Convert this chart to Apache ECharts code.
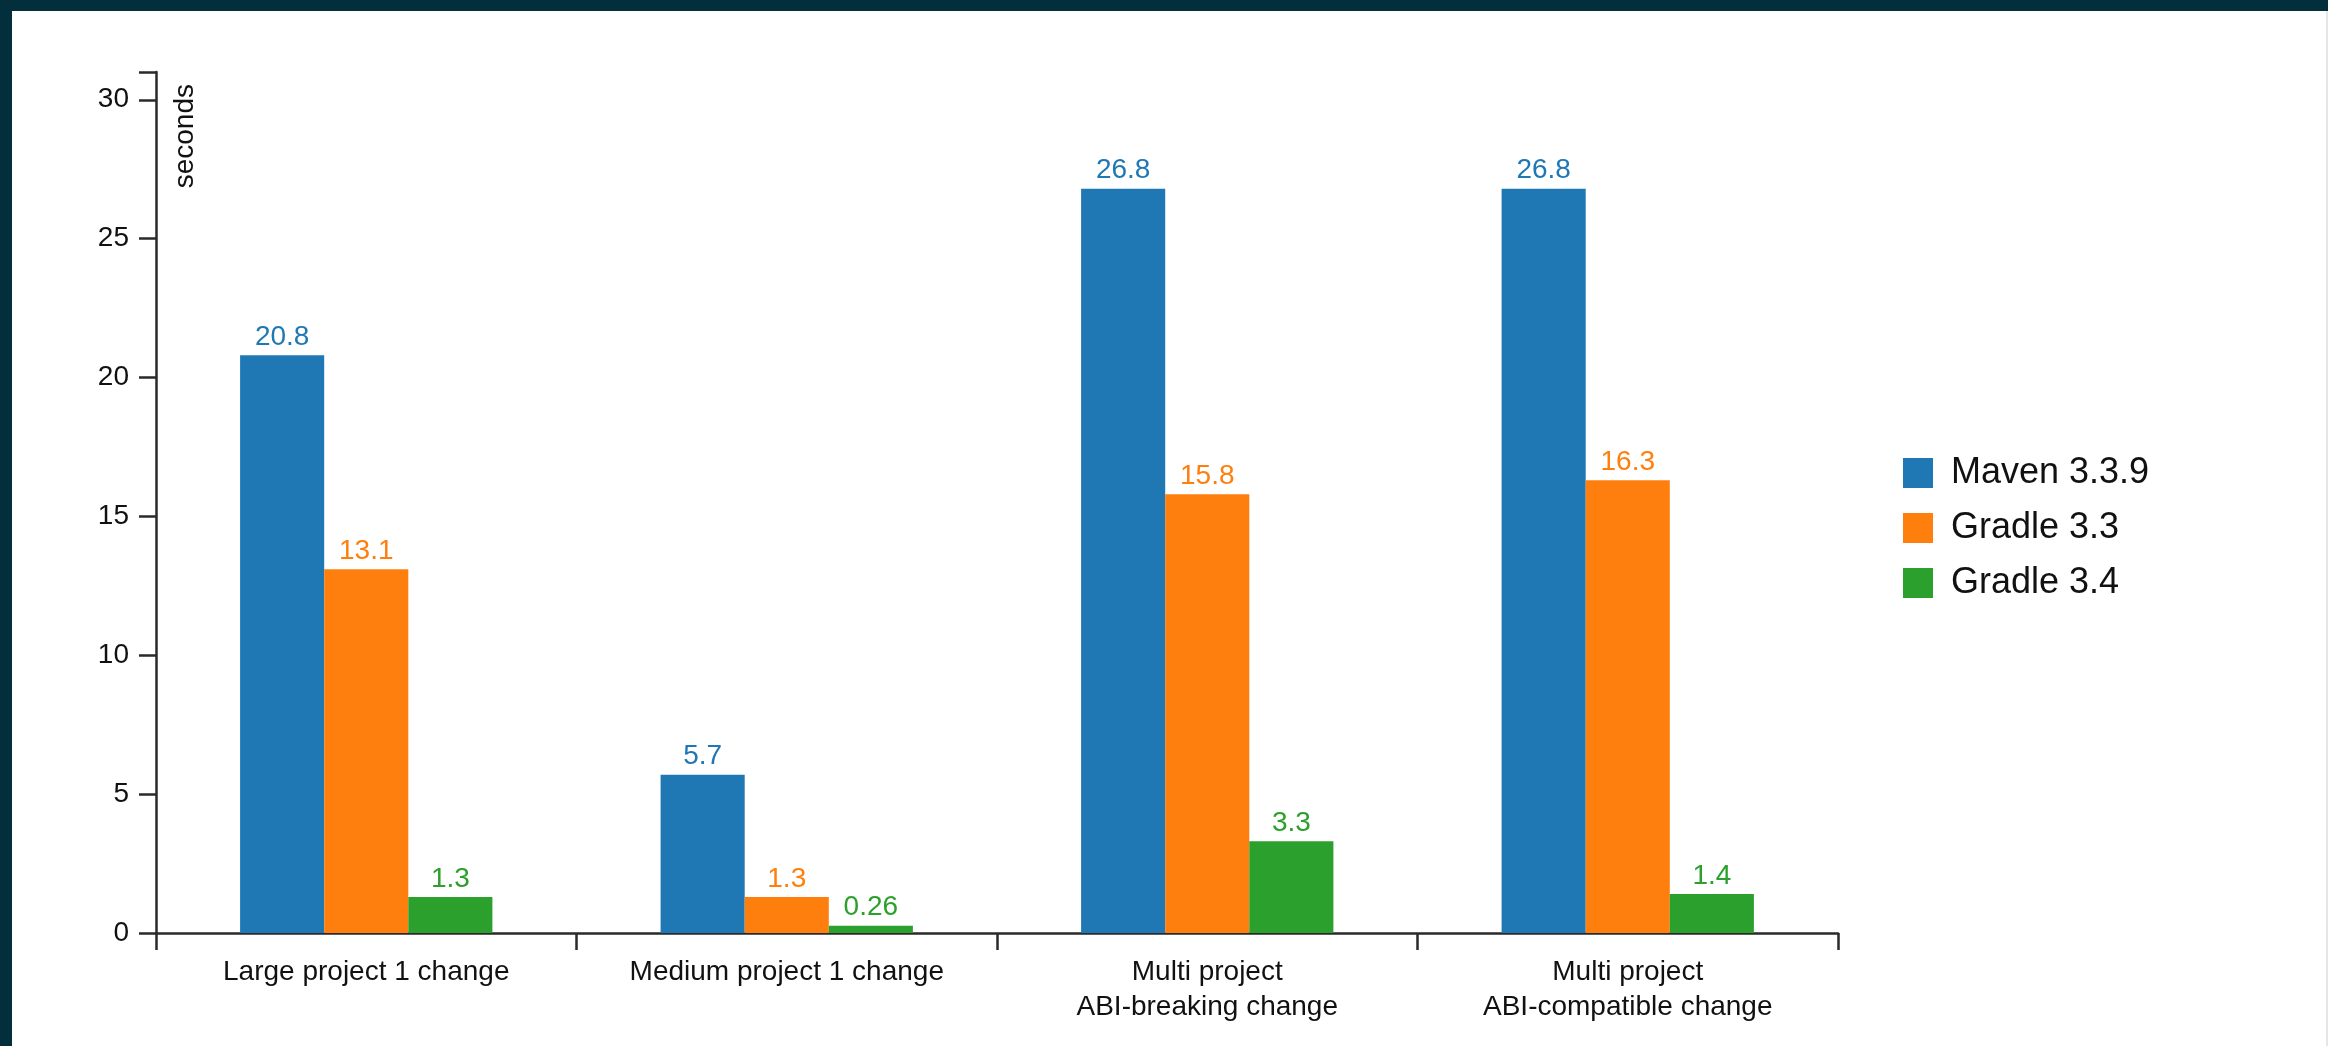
<!DOCTYPE html>
<html>
<head>
<meta charset="utf-8">
<script src="https://cdn.jsdelivr.net/npm/echarts@6/dist/echarts.min.js"></script>
<style>
  html, body { margin: 0; padding: 0; width: 2328px; height: 1046px; overflow: hidden; background: #032e3c; }
  #paper { position: absolute; left: 12px; top: 11px; right: 0; bottom: 0; background: #ffffff; border-right: 2px solid #e6e6e6; }
  #chart { position: absolute; left: 0; top: 0; width: 2328px; height: 1046px; }
</style>
</head>
<body>
<div id="paper"></div>
<div id="chart"></div>
<script>
const categories = [
  'Large project 1 change',
  'Medium project 1 change',
  'Multi project\nABI-breaking change',
  'Multi project\nABI-compatible change'
];
const seriesNames = ['Maven 3.3.9', 'Gradle 3.3', 'Gradle 3.4'];
const maven339 = [20.8, 5.7, 26.8, 26.8];
const gradle33 = [13.1, 1.3, 15.8, 16.3];
const gradle34 = [1.3, 0.26, 3.3, 1.4];
const yMin = 0, yMax = 31, yInterval = 5;
const yLabelValues = [0, 5, 10, 15, 20, 25, 30];
const yTickValues = [0, 5, 10, 15, 20, 25, 30, 31];
const yAxisTitle = 'seconds';

const colors = ['#1f77b4', '#ff7f0e', '#2ca02c'];
const font = '"Liberation Sans", Arial, Helvetica, sans-serif';
const axisColor = '#2a2a2a';

const chart = echarts.init(document.getElementById('chart'), null, { renderer: 'canvas' });

function barSeries(name, data, color) {
  return {
    name: name,
    type: 'bar',
    data: data,
    barGap: '0%',
    barCategoryGap: '40%',
    itemStyle: { color: color },
    label: {
      show: true,
      position: 'top',
      distance: 4,
      color: color,
      fontFamily: font,
      fontSize: 28
    },
    emphasis: { disabled: true },
    animation: false
  };
}

chart.setOption({
  animation: false,
  color: colors,
  textStyle: { fontFamily: font },
  grid: { left: 156, right: 490, top: 72, bottom: 113, containLabel: false, outerBoundsMode: 'none' },
  legend: {
    orient: 'vertical',
    left: 1898,
    top: 450,
    icon: 'rect',
    itemWidth: 30,
    itemHeight: 30,
    itemGap: 19,
    data: seriesNames,
    selectedMode: false,
    textStyle: { fontFamily: font, fontSize: 36, color: '#111', padding: [0, 0, 0, 13] }
  },
  xAxis: {
    type: 'category',
    data: categories,
    axisLine: { show: true, lineStyle: { color: axisColor, width: 2.5 } },
    axisTick: { show: true, length: 17, lineStyle: { color: axisColor, width: 2.5 } },
    axisLabel: {
      color: '#111', fontFamily: font, fontSize: 28, lineHeight: 35,
      margin: 22, verticalAlign: 'top', interval: 0
    },
    splitLine: { show: false }
  },
  yAxis: {
    type: 'value',
    min: yMin,
    max: yMax,
    interval: yInterval,
    axisLine: { show: true, lineStyle: { color: axisColor, width: 2.5 } },
    axisTick: { show: true, length: 17, customValues: yTickValues, lineStyle: { color: axisColor, width: 2.5 } },
    axisLabel: { color: '#111', fontFamily: font, fontSize: 28, margin: 27, customValues: yLabelValues },
    splitLine: { show: false }
  },
  graphic: [{
    type: 'text',
    x: 185,
    y: 84,
    rotation: Math.PI / 2,
    style: {
      text: yAxisTitle,
      fontFamily: font,
      fontSize: 28,
      fill: '#111',
      align: 'right',
      verticalAlign: 'middle'
    }
  }],
  series: [
    barSeries(seriesNames[0], maven339, colors[0]),
    barSeries(seriesNames[1], gradle33, colors[1]),
    barSeries(seriesNames[2], gradle34, colors[2])
  ]
});
</script>
</body>
</html>
